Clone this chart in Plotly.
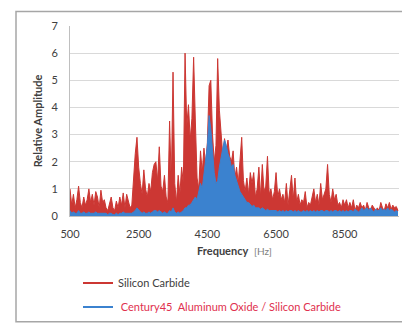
import plotly.graph_objects as go

# frequenze campionate ogni 50 Hz (500 .. 10050)
freq = list(range(500, 10100, 50))

# Silicon Carbide (rosso)
sic = [
    1.0, 0.4, 0.8, 0.3, 0.6, 1.1, 0.5, 0.3, 0.7, 0.4,
    0.6, 1.0, 0.5, 0.8, 0.4, 0.9, 0.7, 0.3, 0.95, 0.5,
    0.6, 0.3, 0.2, 0.5, 0.7, 0.3, 0.2, 0.55, 0.3, 0.7,
    0.4, 0.85, 0.3, 0.8, 0.5, 0.3, 0.4, 1.5, 2.3, 2.9,
    1.8, 1.2, 0.8, 1.7, 1.0, 0.7, 1.2, 0.9, 1.6, 1.9,
    2.0, 1.3, 2.55, 1.1, 0.9, 1.5, 0.7, 0.5, 3.5, 1.2,
    5.3, 1.2, 0.5, 1.5, 0.8, 1.8, 1.2, 6.0, 3.3, 4.1,
    2.8, 3.6, 5.85, 3.5, 1.4, 1.0, 2.4, 1.6, 2.5, 1.9,
    2.7, 4.8, 5.0, 3.0, 2.0, 2.6, 5.8, 3.9, 3.0, 2.2,
    2.85, 2.4, 2.8, 2.2, 2.0, 2.4, 1.4, 1.8, 1.2, 2.0,
    2.9, 1.3, 0.9, 1.4, 0.8, 1.6, 1.2, 1.6, 0.7, 1.0,
    1.8, 0.7, 1.9, 0.9, 1.1, 2.2, 0.8, 1.0, 0.6, 0.9,
    1.6, 0.7, 1.0, 0.6, 0.8, 0.5, 1.2, 0.4, 0.9, 1.5,
    0.6, 1.4, 0.5, 0.8, 0.4, 0.6, 0.5, 0.9, 0.3, 0.5,
    0.4, 0.7, 1.0, 0.5, 0.8, 0.4, 1.2, 0.6, 0.8, 1.0,
    1.9, 0.8, 0.5, 1.0, 0.6, 0.8, 0.4, 0.5, 0.3, 0.6,
    0.4, 0.6, 0.3, 0.5, 0.3, 0.6, 0.2, 0.4, 0.3, 0.5,
    0.3, 0.4, 0.2, 0.5, 0.3, 0.2, 0.4, 0.3, 0.2, 0.3,
    0.2, 0.5, 0.3, 0.2, 0.45, 0.3, 0.5, 0.25, 0.4, 0.3,
    0.35, 0.2,
]

# Century45 Aluminum Oxide / Silicon Carbide (blu)
c45 = [
    0.2, 0.1, 0.15, 0.1, 0.1, 0.2, 0.1, 0.1, 0.15, 0.1,
    0.1, 0.15, 0.1, 0.1, 0.1, 0.15, 0.1, 0.1, 0.1, 0.1,
    0.1, 0.1, 0.05, 0.1, 0.1, 0.05, 0.05, 0.1, 0.05, 0.1,
    0.1, 0.15, 0.1, 0.1, 0.1, 0.1, 0.1, 0.15, 0.2, 0.3,
    0.2, 0.15, 0.1, 0.15, 0.1, 0.1, 0.15, 0.1, 0.15, 0.2,
    0.2, 0.15, 0.2, 0.15, 0.1, 0.15, 0.1, 0.1, 0.2, 0.15,
    0.3, 0.15, 0.1, 0.15, 0.1, 0.15, 0.2, 0.3, 0.3, 0.4,
    0.4, 0.5, 0.6, 0.7, 0.6, 0.9, 1.2, 1.0, 1.6, 2.0,
    2.6, 3.7, 3.2, 2.4, 1.6, 1.2, 1.3, 1.8, 2.2, 2.5,
    2.8, 2.6, 2.3, 2.1, 1.8, 1.9, 1.5, 1.3, 1.1, 0.9,
    0.8, 0.7, 0.6, 0.5, 0.5, 0.4, 0.35, 0.4, 0.3, 0.3,
    0.3, 0.25, 0.3, 0.25, 0.2, 0.25, 0.2, 0.2, 0.2, 0.2,
    0.2, 0.15, 0.2, 0.15, 0.2, 0.15, 0.2, 0.15, 0.2, 0.2,
    0.15, 0.2, 0.15, 0.2, 0.15, 0.15, 0.2, 0.15, 0.2, 0.15,
    0.2, 0.15, 0.2, 0.15, 0.2, 0.15, 0.2, 0.2, 0.15, 0.2,
    0.2, 0.15, 0.2, 0.15, 0.2, 0.2, 0.15, 0.2, 0.15, 0.2,
    0.15, 0.2, 0.15, 0.2, 0.2, 0.15, 0.25, 0.2, 0.15, 0.2,
    0.3, 0.2, 0.25, 0.3, 0.2, 0.3, 0.2, 0.15, 0.25, 0.2,
    0.2, 0.3, 0.2, 0.25, 0.2, 0.3, 0.2, 0.25, 0.2, 0.15,
    0.2, 0.15,
]

x_ticks = [500, 2500, 4500, 6500, 8500]

RED = "#CC3733"
BLUE = "#3B82CF"
W, H = 410, 326
ML, MR, MT, MB = 62, 19, 18, 112

fig = go.Figure()

fig.add_trace(go.Scatter(
    x=freq, y=sic, mode="lines", fill="tozeroy",
    line=dict(color=RED, width=1), fillcolor=RED, showlegend=False,
))
fig.add_trace(go.Scatter(
    x=freq, y=c45, mode="lines", fill="tozeroy",
    line=dict(color=BLUE, width=1), fillcolor=BLUE, showlegend=False,
))

# voci di legenda (solo linea), una legenda per voce
fig.add_trace(go.Scatter(
    x=[None], y=[None], mode="lines", line=dict(color=RED, width=2),
    name="Silicon Carbide", legend="legend",
))
fig.add_trace(go.Scatter(
    x=[None], y=[None], mode="lines", line=dict(color=BLUE, width=2),
    name="<span style='color:#E0304E'> Century45  Aluminum Oxide / Silicon Carbide</span>",
    legend="legend2",
))

pw = W - ML - MR
ph = H - MT - MB

def leg(ypix):
    return dict(
        x=(70 - ML) / pw, y=(MT + ph - ypix) / ph, xanchor="left", yanchor="middle",
        font=dict(size=11, color="#404040"), bgcolor="rgba(0,0,0,0)", itemwidth=30,
    )

fig.update_layout(
    width=W, height=H,
    margin=dict(l=ML, r=MR, t=MT, b=MB),
    paper_bgcolor="white", plot_bgcolor="white",
    font=dict(family="Lato, Open Sans, sans-serif", size=11, color="#404040"),
    showlegend=True,
    legend=leg(283),
    legend2=leg(308),
    xaxis=dict(
        range=[500, 10080], tickvals=x_ticks, showgrid=False,
        showline=True, linecolor="#BFBFBF", ticks="", zeroline=False,
        ticklabelstandoff=8,
        title=dict(text="<b>Frequency</b>  <span style='color:#808080;font-size:10px'>[Hz]</span>",
                   font=dict(size=11, color="#404040"), standoff=8),
        tickfont=dict(size=11, color="#404040"),
    ),
    yaxis=dict(
        range=[0, 7], dtick=1, showgrid=True, gridcolor="#D9D9D9",
        showline=True, linecolor="#BFBFBF", zeroline=False, ticks="",
        ticklabelstandoff=9,
        title=dict(text="<b>Relative Amplitude</b>", font=dict(size=11, color="#404040"), standoff=6),
        tickfont=dict(size=11, color="#404040"),
    ),
    shapes=[dict(
        type="rect", xref="paper", yref="paper",
        x0=(8 - ML) / pw, x1=(406 - ML) / pw,
        y0=(MT + ph - 323) / ph, y1=(MT + ph - 3) / ph,
        line=dict(color="#A6A6A6", width=1.5), fillcolor="rgba(0,0,0,0)", layer="below",
    )],
)

fig.write_html("out.html")
